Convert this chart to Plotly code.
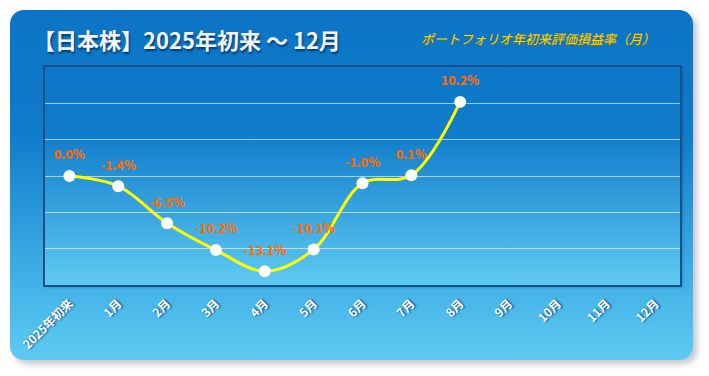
import base64
import plotly.graph_objects as go

categories = ["2025年初来", "1月", "2月", "3月", "4月", "5月", "6月",
              "7月", "8月", "9月", "10月", "11月", "12月"]
returns_pct = [0.0, -1.4, -6.5, -10.2, -13.1, -10.1, -1.0, 0.1, 10.2,
               None, None, None, None]
label_texts = ["" if v is None else f"{v:.1f}%" for v in returns_pct]

title_text = "【日本株】2025年初来 ～ 12月"
subtitle_text = "ポートフォリオ年初来評価損益率（月）"

W, H = 709, 376
ML, MR, MT, MB = 45, 29, 67, 91
PW, PH = W - ML - MR, H - MT - MB


def px_x(px):
    return (px - ML) / PW


def px_y(py):
    return 1 - (py - MT) / PH


svg = f'''<svg xmlns="http://www.w3.org/2000/svg" width="{W}" height="{H}" viewBox="0 0 {W} {H}">
<defs>
<linearGradient id="g" x1="0" y1="0" x2="0" y2="1">
<stop offset="0" stop-color="#0b74c6"/>
<stop offset="0.35" stop-color="#0f7bcb"/>
<stop offset="0.75" stop-color="#3eaee5"/>
<stop offset="1" stop-color="#5fcaf2"/>
</linearGradient>
<linearGradient id="p" x1="0" y1="0" x2="0" y2="1">
<stop offset="0" stop-color="#0c77c8"/>
<stop offset="0.3" stop-color="#0f7ccb"/>
<stop offset="1" stop-color="#5ecaf2"/>
</linearGradient>
<filter id="s" x="-10%" y="-10%" width="120%" height="120%"><feGaussianBlur stdDeviation="3"/></filter>
<filter id="s2" x="-10%" y="-10%" width="120%" height="120%"><feGaussianBlur stdDeviation="1.5"/></filter>
</defs>
<rect x="14" y="14" width="683" height="350" rx="14" fill="#8e9aa8" opacity="0.55" filter="url(#s)"/>
<rect x="10" y="10" width="683" height="350" rx="14" fill="url(#g)"/>
<rect x="47" y="69" width="635" height="218" fill="#0a3560" opacity="0.5" filter="url(#s2)"/>
<rect x="{ML}" y="{MT}" width="{PW}" height="{PH}" fill="url(#p)"/>
</svg>'''
svg_uri = "data:image/svg+xml;base64," + base64.b64encode(svg.encode("utf-8")).decode()

fig = go.Figure()
fig.add_trace(go.Scatter(
    x=categories,
    y=returns_pct,
    mode="lines+markers",
    line=dict(color="#ffff00", width=3, shape="spline", smoothing=1),
    marker=dict(color="white", size=12, line=dict(width=0)),
    connectgaps=False,
    hoverinfo="skip",
))
fig.add_trace(go.Scatter(
    x=categories,
    y=returns_pct,
    mode="markers+text",
    marker=dict(color="rgba(0,0,0,0)", size=20),
    text=label_texts,
    textposition="top center",
    textfont=dict(family="Noto Sans CJK JP", size=12.5, color="#ff6a00",
                  weight="bold", shadow="0px 0px 1px rgba(255,140,40,0.4)"),
    cliponaxis=False,
    hoverinfo="skip",
))

fig.update_layout(
    width=W, height=H,
    margin=dict(l=ML, r=MR, t=MT, b=MB),
    paper_bgcolor="white",
    plot_bgcolor="rgba(0,0,0,0)",
    showlegend=False,
    images=[dict(source=svg_uri, xref="paper", yref="paper",
                 x=px_x(0), y=px_y(0), sizex=W / PW, sizey=H / PH,
                 xanchor="left", yanchor="top", sizing="stretch",
                 layer="below")],
    xaxis=dict(
        type="category", categoryorder="array", categoryarray=categories,
        range=[-0.5, len(categories) - 0.5],
        showgrid=False, zeroline=False, ticks="",
        tickangle=-45, ticklabelstandoff=5,
        tickfont=dict(family="Noto Sans CJK JP", size=12, color="white",
                      weight="bold", shadow="1px 1px 2px #0a4070"),
        showline=True, mirror=True, linecolor="#1b4f87", linewidth=1.5,
        fixedrange=True,
    ),
    yaxis=dict(
        range=[-15, 15], dtick=5, showticklabels=False, ticks="",
        showgrid=True, gridcolor="rgba(255,255,255,0.6)", gridwidth=1,
        zeroline=False,
        showline=True, mirror=True, linecolor="#1b4f87", linewidth=1.5,
        fixedrange=True,
    ),
    annotations=[
        dict(text=title_text, xref="paper", yref="paper",
             x=px_x(31), y=px_y(39), xanchor="left", yanchor="middle",
             showarrow=False,
             font=dict(family="Noto Sans CJK JP", size=22, color="#f2f6fb",
                       weight="bold", shadow="1px 2px 2px #083a6a")),
        dict(text=subtitle_text, xref="paper", yref="paper",
             x=px_x(419), y=px_y(39), xanchor="left", yanchor="middle",
             showarrow=False,
             font=dict(family="Noto Sans CJK JP", size=13, color="#f7d61a",
                       style="italic", shadow="0px 1px 1px #8a7000")),
    ],
)

fig.write_html("out.html", config={"displayModeBar": False},
               post_script="document.body.style.margin='0';")
